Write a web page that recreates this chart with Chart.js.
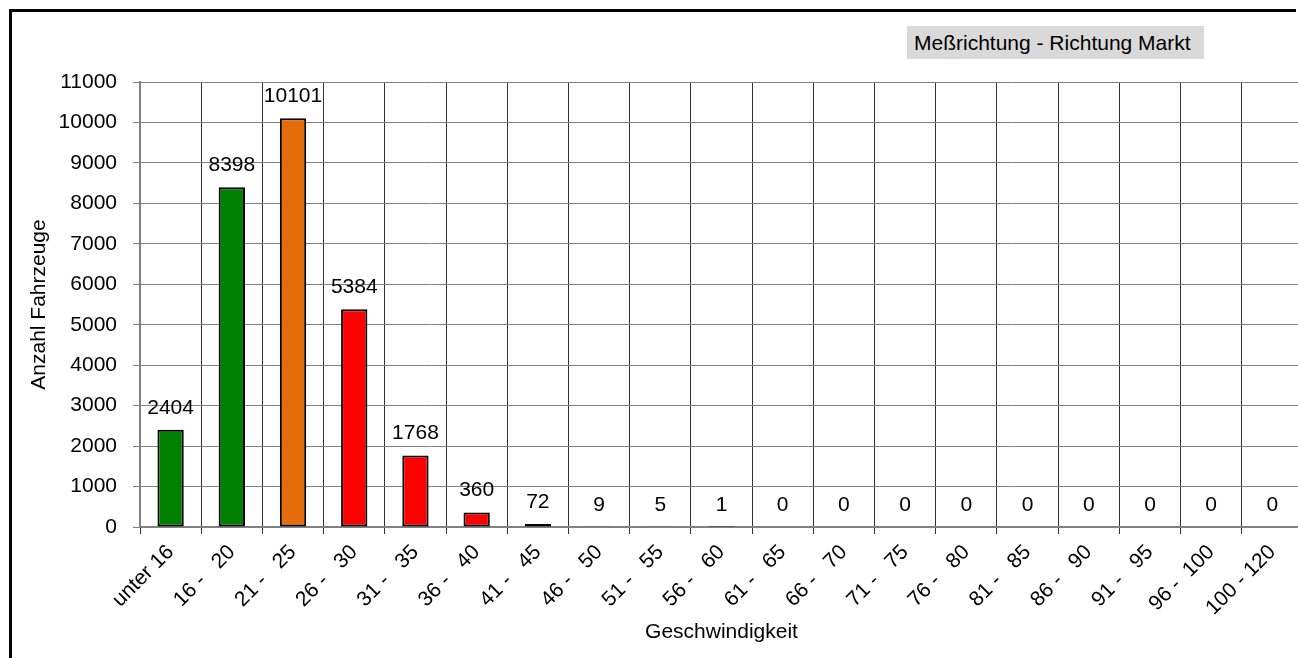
<!DOCTYPE html>
<html>
<head>
<meta charset="utf-8">
<script src="https://cdn.jsdelivr.net/npm/chart.js@4.4.1/dist/chart.umd.min.js"></script>
<style>
  html, body { margin: 0; padding: 0; background: #fff; overflow: hidden; width: 1298px; height: 658px; }
  #outer { position: absolute; left: 0; top: 0; width: 1298px; height: 658px; overflow: hidden; }
  #wrap { position: absolute; left: 0; top: 0; width: 1320px; height: 658px; }
  #frameTop { position: absolute; left: 9px; top: 9px; width: 1287px; height: 3px; background: #000; }
  #frameLeft { position: absolute; left: 9px; top: 9px; width: 3px; height: 649px; background: #000; }
  #legendBox { position: absolute; left: 907px; top: 26px; width: 297px; height: 33px; background: #d9d9d9;
    font-family: "Liberation Sans", Arial, sans-serif; font-size: 21px; line-height: 33px; color: #000; padding-left: 7px; box-sizing: border-box; white-space: nowrap; }
</style>
</head>
<body>
<div id="outer">
<div id="wrap"><canvas id="c" width="1320" height="658"></canvas></div>
<div id="frameTop"></div>
<div id="frameLeft"></div>
<div id="legendBox">Meßrichtung - Richtung Markt</div>
</div>
<script>
const categories = ["unter 16", "16 -   20", "21 -   25", "26 -   30", "31 -   35", "36 -   40", "41 -   45", "46 -   50", "51 -   55", "56 -   60", "61 -   65", "66 -   70", "71 -   75", "76 -   80", "81 -   85", "86 -   90", "91 -   95", "96 -  100", "100 - 120"];
const counts = [2404, 8398, 10101, 5384, 1768, 360, 72, 9, 5, 1, 0, 0, 0, 0, 0, 0, 0, 0, 0];
const barColors = ["#008000", "#008000", "#E46C0A", "#FF0000", "#FF0000", "#FF0000", "#FF0000", "#FF0000", "#FF0000", "#FF0000", "#FF0000", "#FF0000", "#FF0000", "#FF0000", "#FF0000", "#FF0000", "#FF0000", "#FF0000", "#FF0000"];
const yTitle = "Anzahl Fahrzeuge";
const xTitle = "Geschwindigkeit";
const yMin = 0, yMax = 11000, yStep = 1000;

const FONT = "'Liberation Sans', Arial, sans-serif";
const FS = 21;

const valueLabels = {
  id: 'valueLabels',
  afterDatasetsDraw(chart) {
    const ctx = chart.ctx;
    const meta = chart.getDatasetMeta(0);
    ctx.save();
    ctx.font = FS + "px " + FONT;
    ctx.fillStyle = "#000";
    ctx.textAlign = "center";
    ctx.textBaseline = "alphabetic";
    meta.data.forEach((bar, i) => {
      ctx.fillText(String(counts[i]), bar.x, bar.y - 16);
    });
    ctx.restore();
  }
};

new Chart(document.getElementById('c'), {
  type: 'bar',
  data: {
    labels: categories,
    datasets: [{
      data: counts,
      backgroundColor: barColors,
      borderColor: "#000",
      borderWidth: 2,
      borderSkipped: false,
      barPercentage: 0.43,
      categoryPercentage: 1.0
    }]
  },
  options: {
    responsive: false,
    animation: false,
    devicePixelRatio: 1,
    layout: { padding: { top: 82, right: 17, left: 0, bottom: 0 } },
    plugins: { legend: { display: false }, tooltip: { enabled: false }, title: { display: false } },
    scales: {
      x: {
        grid: { color: "#333", lineWidth: 1, offset: true, tickLength: 7, drawOnChartArea: true },
        border: { color: "#808080", width: 2 },
        ticks: { color: "#000", font: { family: FONT, size: FS }, maxRotation: 45, minRotation: 45, autoSkip: false, padding: 6 },
        title: { display: true, text: xTitle, color: "#000", font: { family: FONT, size: FS }, padding: { top: 0, bottom: 13 } },
        afterFit(scale) { scale.height = 658 - 527; }
      },
      y: {
        min: yMin, max: yMax,
        grid: { color: "#808080", lineWidth: 1, tickLength: 7 },
        border: { color: "#808080", width: 2 },
        ticks: { stepSize: yStep, color: "#000", font: { family: FONT, size: FS }, padding: 16, callback: (v) => String(v) },
        title: { display: true, text: yTitle, color: "#000", font: { family: FONT, size: FS }, padding: { top: 27, bottom: 0 } },
        afterFit(scale) { scale.width = 140; }
      }
    }
  },
  plugins: [valueLabels]
});
</script>
</body>
</html>
